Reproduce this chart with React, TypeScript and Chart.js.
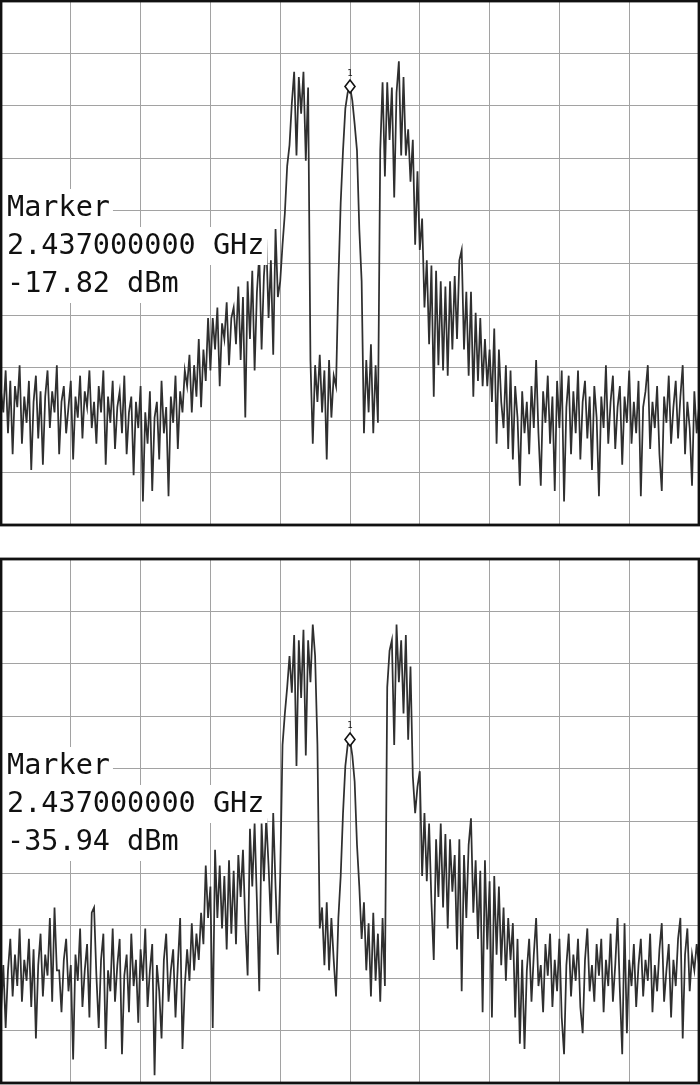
import React, { useEffect, useRef } from "react";
import { Chart, registerables } from "chart.js";

Chart.register(...registerables);

// Sweep settings (frequency axis in MHz, amplitude in dBm)
const START_MHZ = 2412;
const STOP_MHZ = 2462;
const FREQ_DIV_MHZ = 5;
const REF_LEVEL_DBM = -1.5;
const DB_PER_DIV = 10;
const DIVISIONS = 10;

const MARKER_FREQ_MHZ = 2437;
const MARKER_ID = "1";
const MARKER_TITLE = "Marker";
const MARKER_FREQ_TEXT = "2.437000000 GHz";
const TOP_MARKER_DBM = -17.82;
const BOTTOM_MARKER_DBM = -35.94;
const TOP_MARKER_TEXT = "-17.82 dBm";
const BOTTOM_MARKER_TEXT = "-35.94 dBm";

// Trace readings, 301 sweep points each (dBm)
const TOP_TRACE_DBM = [
  -76, -80, -72, -84, -74, -88, -75, -79, -71, -86,
  -77, -82, -74, -91, -78, -73, -85, -76, -90, -77,
  -72, -83, -76, -80, -71, -88, -78, -75, -84, -79,
  -74, -89, -77, -81, -73, -85, -76, -79, -72, -83,
  -78, -86, -75, -80, -72, -90, -77, -82, -74, -87,
  -79, -76, -84, -73, -88, -80, -77, -92, -78, -83,
  -75, -97, -80, -86, -76, -95, -81, -78, -89, -74,
  -84, -79, -96, -77, -82, -73, -87, -76, -80, -72,
  -75, -69, -80, -71, -77, -66, -79, -68, -74, -62,
  -72, -62, -68, -60, -75, -63, -66, -59, -71, -62,
  -60, -67, -56, -70, -58, -81, -55, -66, -53, -72,
  -57, -50, -68, -54, -47, -62, -51, -69, -45, -58,
  -55, -48, -42, -33, -29, -21, -15, -31, -16, -23,
  -15, -32, -18, -70, -86, -71, -78, -69, -80, -72,
  -89, -70, -81, -73, -75, -55, -40, -30, -22, -19,
  -17.8, -20.5, -25, -30, -45, -55, -84, -70, -80, -67,
  -84, -71, -82, -30, -17, -35, -17, -28, -18, -39,
  -19, -13, -31, -16, -31, -26, -36, -28, -48, -34,
  -49, -43, -60, -51, -67, -52, -77, -53, -71, -55,
  -72, -56, -73, -55, -68, -54, -66, -51, -49, -68,
  -57, -73, -57, -77, -61, -74, -62, -75, -66, -75,
  -68, -78, -64, -86, -68, -78, -83, -71, -87, -72,
  -89, -75, -81, -94, -76, -84, -78, -88, -75, -83,
  -70, -84, -94, -76, -82, -73, -86, -77, -95, -74,
  -83, -72, -97, -79, -73, -88, -76, -84, -72, -89,
  -78, -74, -85, -77, -91, -75, -81, -96, -77, -83,
  -71, -86, -78, -73, -87, -79, -75, -90, -77, -82,
  -72, -86, -78, -84, -74, -96, -79, -76, -71, -87,
  -78, -83, -75, -88, -95, -77, -82, -73, -86, -79,
  -74, -85, -77, -71, -88, -78, -83, -94, -76, -84,
  -79,
];

const BOTTOM_TRACE_DBM = [
  -88, -79, -91, -80, -74, -85, -77, -83, -72, -86,
  -78, -82, -74, -87, -76, -93, -79, -73, -85, -77,
  -81, -70, -86, -68, -80, -80, -88, -78, -74, -84,
  -79, -97, -77, -82, -72, -87, -80, -75, -89, -69,
  -68, -81, -91, -78, -73, -95, -80, -84, -72, -86,
  -79, -74, -96, -81, -77, -88, -73, -83, -78, -90,
  -76, -82, -72, -87, -80, -75, -100, -79, -84, -93,
  -78, -73, -86, -80, -76, -89, -79, -70, -95, -83,
  -76, -82, -71, -80, -73, -78, -69, -75, -60, -70,
  -64, -91, -57, -70, -60, -72, -62, -76, -59, -73,
  -61, -75, -58, -66, -57, -71, -81, -53, -64, -52,
  -67, -84, -52, -63, -51, -60, -71, -50, -64, -77,
  -62, -37, -31, -26, -20, -27, -16, -41, -17, -28,
  -15, -39, -17, -25, -14, -20, -37, -72, -68, -79,
  -67, -80, -70, -78, -85, -70, -62, -50, -41, -37,
  -35.9, -39, -44, -56, -64, -74, -67, -80, -71, -85,
  -69, -82, -73, -86, -70, -83, -26, -19, -17, -37,
  -14, -25, -17, -31, -16, -36, -22, -43, -50, -45,
  -42, -62, -50, -63, -52, -67, -78, -55, -66, -52,
  -68, -54, -72, -55, -65, -58, -76, -55, -84, -58,
  -70, -56, -51, -69, -59, -74, -61, -88, -59, -76,
  -63, -89, -62, -77, -64, -79, -68, -82, -70, -78,
  -71, -89, -74, -94, -78, -95, -80, -74, -86, -77,
  -70, -83, -79, -88, -75, -81, -73, -87, -78, -84,
  -74, -89, -96, -79, -73, -85, -77, -82, -74, -87,
  -92, -78, -72, -84, -79, -86, -75, -81, -74, -88,
  -78, -83, -73, -86, -79, -70, -84, -96, -71, -92,
  -78, -83, -75, -87, -79, -74, -85, -78, -82, -73,
  -88, -79, -84, -76, -71, -86, -80, -75, -89, -78,
  -83, -74, -70, -93, -77, -72, -84, -77, -80, -75,
  -79,
];

const FONT_MONO = '"DejaVu Sans Mono", "Liberation Mono", monospace';

const overlayPlugin = {
  id: "saOverlay",
  afterDatasetsDraw(chart: any, _args: any, opts: any) {
    const { ctx, chartArea: a, scales } = chart;
    const xs = scales.x;
    const ys = scales.y;
    ctx.save();

    // marker annotation text with white background per line
    ctx.font = `28.5px ${FONT_MONO}`;
    ctx.textBaseline = "alphabetic";
    ctx.textAlign = "left";
    const lines: string[] = opts.lines;
    const baselines = [215, 253, 291];
    lines.forEach((t: string, k: number) => {
      const w = ctx.measureText(t).width;
      const b = a.top + baselines[k];
      ctx.fillStyle = "#ffffff";
      ctx.fillRect(a.left, b - 27, w + 9, 38);
    });
    lines.forEach((t: string, k: number) => {
      ctx.fillStyle = "#111111";
      ctx.fillText(t, a.left + 6, a.top + baselines[k]);
    });

    // marker diamond on the trace
    const mx = xs.getPixelForValue(opts.markerFreq);
    const my = ys.getPixelForValue(opts.markerDbm);
    ctx.beginPath();
    ctx.moveTo(mx, my - 6.5);
    ctx.lineTo(mx + 5, my);
    ctx.lineTo(mx, my + 6.5);
    ctx.lineTo(mx - 5, my);
    ctx.closePath();
    ctx.fillStyle = "#ffffff";
    ctx.fill();
    ctx.lineWidth = 1.6;
    ctx.strokeStyle = "#111111";
    ctx.stroke();
    ctx.font = `9px ${FONT_MONO}`;
    ctx.textAlign = "center";
    ctx.fillStyle = "#111111";
    ctx.fillText(opts.markerId, mx, my - 11);

    // frame
    ctx.lineWidth = 2.8;
    ctx.strokeStyle = "#111111";
    ctx.strokeRect(a.left, a.top, a.right - a.left, a.bottom - a.top);
    ctx.restore();
  },
};

type PanelProps = {
  trace: number[];
  markerDbm: number;
  markerText: string;
  top: number;
  height: number;
  padTop: number;
  padBottom: number;
};

function SpectrumPanel({ trace, markerDbm, markerText, top, height, padTop, padBottom }: PanelProps) {
  const ref = useRef<HTMLCanvasElement | null>(null);
  useEffect(() => {
    if (!ref.current) return;
    const step = (STOP_MHZ - START_MHZ) / (trace.length - 1);
    const points = trace.map((v, i) => ({ x: START_MHZ + i * step, y: v }));
    const gridStyle = { color: "#a2a2a2", lineWidth: 1, drawTicks: false };
    const chart = new Chart(ref.current, {
      type: "line",
      data: {
        datasets: [
          {
            data: points,
            borderColor: "#2f2f2f",
            borderWidth: 1.75,
            pointRadius: 0,
            tension: 0,
            fill: false,
          },
        ],
      },
      options: {
        responsive: false,
        maintainAspectRatio: false,
        animation: false,
        devicePixelRatio: 1,
        layout: { padding: { left: 1, right: 1, top: padTop, bottom: padBottom } },
        scales: {
          x: {
            type: "linear",
            min: START_MHZ,
            max: STOP_MHZ,
            ticks: { display: false, stepSize: FREQ_DIV_MHZ },
            grid: gridStyle,
            border: { display: false },
          },
          y: {
            type: "linear",
            min: REF_LEVEL_DBM - DB_PER_DIV * DIVISIONS,
            max: REF_LEVEL_DBM,
            ticks: { display: false, stepSize: DB_PER_DIV },
            grid: gridStyle,
            border: { display: false },
          },
        },
        plugins: {
          legend: { display: false },
          tooltip: { enabled: false },
          saOverlay: {
            lines: [MARKER_TITLE, MARKER_FREQ_TEXT, markerText],
            markerFreq: MARKER_FREQ_MHZ,
            markerDbm: markerDbm,
            markerId: MARKER_ID,
          },
        } as any,
      },
      plugins: [overlayPlugin],
    });
    return () => chart.destroy();
  }, [trace, markerDbm, markerText, padTop, padBottom]);
  return (
    <canvas
      ref={ref}
      width={700}
      height={height}
      style={{ position: "absolute", left: 0, top, width: 700, height, display: "block" }}
    />
  );
}

export default function App() {
  return (
    <div style={{ position: "absolute", left: 0, top: 0, width: 700, height: 1085, background: "#ffffff" }}>
      <SpectrumPanel
        trace={TOP_TRACE_DBM}
        markerDbm={TOP_MARKER_DBM}
        markerText={TOP_MARKER_TEXT}
        top={0}
        height={527}
        padTop={1}
        padBottom={2}
      />
      <SpectrumPanel
        trace={BOTTOM_TRACE_DBM}
        markerDbm={BOTTOM_MARKER_DBM}
        markerText={BOTTOM_MARKER_TEXT}
        top={557}
        height={528}
        padTop={2}
        padBottom={2}
      />
    </div>
  );
}
